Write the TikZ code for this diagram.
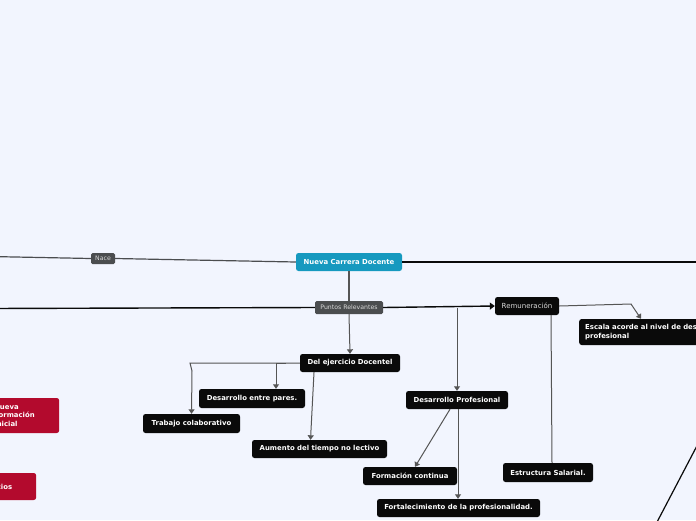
\documentclass[tikz,border=0pt]{standalone}
\usepackage{fontspec}
\setmainfont{DejaVu Sans}
\usetikzlibrary{arrows.meta}
\definecolor{bgc}{HTML}{F2F5FE}
\definecolor{tealc}{HTML}{1699BF}
\definecolor{greyc}{HTML}{4B4D4F}
\definecolor{blk}{HTML}{0A0A0A}
\definecolor{redc}{HTML}{B30A2D}
\definecolor{linec}{HTML}{555555}
\tikzset{
  boxbase/.style={rounded corners=2.5pt, inner sep=0pt, align=center, text=white},
  mainbox/.style={boxbase, fill=tealc, font=\bfseries\fontsize{6.9}{8}\selectfont},
  labelbox/.style={boxbase, fill=greyc, text=white!85!black, font=\fontsize{6.2}{7}\selectfont, rounded corners=1.5pt},
  blackbox/.style={boxbase, fill=blk, font=\bfseries\fontsize{6.9}{8.2}\selectfont},
  remubox/.style={boxbase, fill=blk, text=white!85!black, font=\fontsize{7}{8}\selectfont},
  redbox/.style={boxbase, fill=redc, font=\bfseries\fontsize{6.9}{8.2}\selectfont},
  conn/.style={draw=linec, line width=1pt},
  arr/.style={conn, -{Triangle[width=6pt,length=4.5pt]}},
  thick line/.style={draw=blk, line width=1.4pt},
}
\begin{document}
\begin{tikzpicture}[x=1pt,y=-1pt]
\useasboundingbox (0,0) rectangle (696,520);
\fill[bgc] (0,0) rectangle (696,520);
\clip (0,0) rectangle (696,520);

% nodes
\node[mainbox, minimum width=106, minimum height=18] (ncd) at (349,262) {Nueva Carrera Docente};
\node[labelbox, minimum width=24, minimum height=11] (nace) at (103,258.5) {Nace};
\node[labelbox, minimum width=68, minimum height=13] (pr) at (349,307.5) {Puntos Relevantes};
\node[remubox, minimum width=64, minimum height=18] (rem) at (527,306) {Remuneración};
\node[blackbox, anchor=west, minimum width=160, minimum height=26, text width=148, align=left] (esc) at (579,332) {Escala acorde al nivel de desarrollo\\profesional};
\node[blackbox, minimum width=100, minimum height=18] (del) at (350,363) {Del ejercicio Docentel};
\node[blackbox, minimum width=106, minimum height=19] (pares) at (252,398.5) {Desarrollo entre pares.};
\node[blackbox, minimum width=97, minimum height=19] (trab) at (191.5,423.5) {Trabajo colaborativo};
\node[blackbox, minimum width=135, minimum height=18] (aum) at (319.5,449) {Aumento del tiempo no lectivo};
\node[blackbox, minimum width=102, minimum height=18] (dp) at (457,400) {Desarrollo Profesional};
\node[blackbox, minimum width=90, minimum height=19] (est) at (548,472.5) {Estructura Salarial.};
\node[blackbox, minimum width=94, minimum height=18] (form) at (410,476) {Formación continua};
\node[blackbox, minimum width=163, minimum height=18] (fort) at (458.5,508) {Fortalecimiento de la profesionalidad.};
\node[redbox, anchor=west, minimum width=65, minimum height=35, text width=65, align=left] (nfi) at (-6,415.5) {Nueva\\Formación\\Inicial};
\node[redbox, anchor=west, minimum width=64, minimum height=27, text width=64, align=left] (ben) at (-28,486.5) {Beneficios};

% off-canvas ends
\coordinate (leftA) at (-10,256.5);
\coordinate (leftB) at (-10,308.5);
\coordinate (rightA) at (706,262);
\coordinate (rightC1) at (700,440);
\coordinate (rightC2) at (656,524);
\coordinate (prR) at (457,307.5);
\coordinate (escbend) at (631,304);
\coordinate (delbend) at (190,363);
\coordinate (delbend2) at (192,371);
\coordinate (paresbend) at (276,363);

% connectors
\draw[conn, line width=1.2pt, draw=greyc] (leftA) -- (nace.west);
\draw[conn, line width=1.2pt, draw=greyc] (nace.east) -- (ncd.west);
\draw[thick line, line width=1.8pt] (ncd.east) -- (rightA);
\draw[thick line] (leftB) -- (pr.west);
\draw[thick line, -{Triangle[width=7pt,length=5pt]}] (pr.east) -- (rem.west);
\draw[conn, line width=1.4pt] (ncd.south) -- (pr.north);
\draw[arr] (pr.south) -- (del.north);
\draw[arr] (prR) -- (dp.north);
\draw[arr] (rem.east) -- (escbend) -- ([xshift=62pt]esc.north west);
\draw[conn] ([xshift=24pt]rem.south) -- ([xshift=4pt]est.north);
\draw[arr] (del.west) -- (delbend) -- (delbend2) -- (trab.north);
\draw[arr] (del.west) ++(-14,0) -- (paresbend) -- ([xshift=24pt]pares.north);
\draw[arr] ([xshift=-36pt]del.south) -- ([xshift=-9pt]aum.north);
\draw[arr] ([xshift=-7pt]dp.south) -- ([xshift=5pt]form.north);
\draw[arr] ([xshift=1pt]dp.south) -- ([xshift=-0.5pt]fort.north);
\draw[draw=blk, line width=1.2pt] (rightC1) -- (rightC2);
\end{tikzpicture}
\end{document}
